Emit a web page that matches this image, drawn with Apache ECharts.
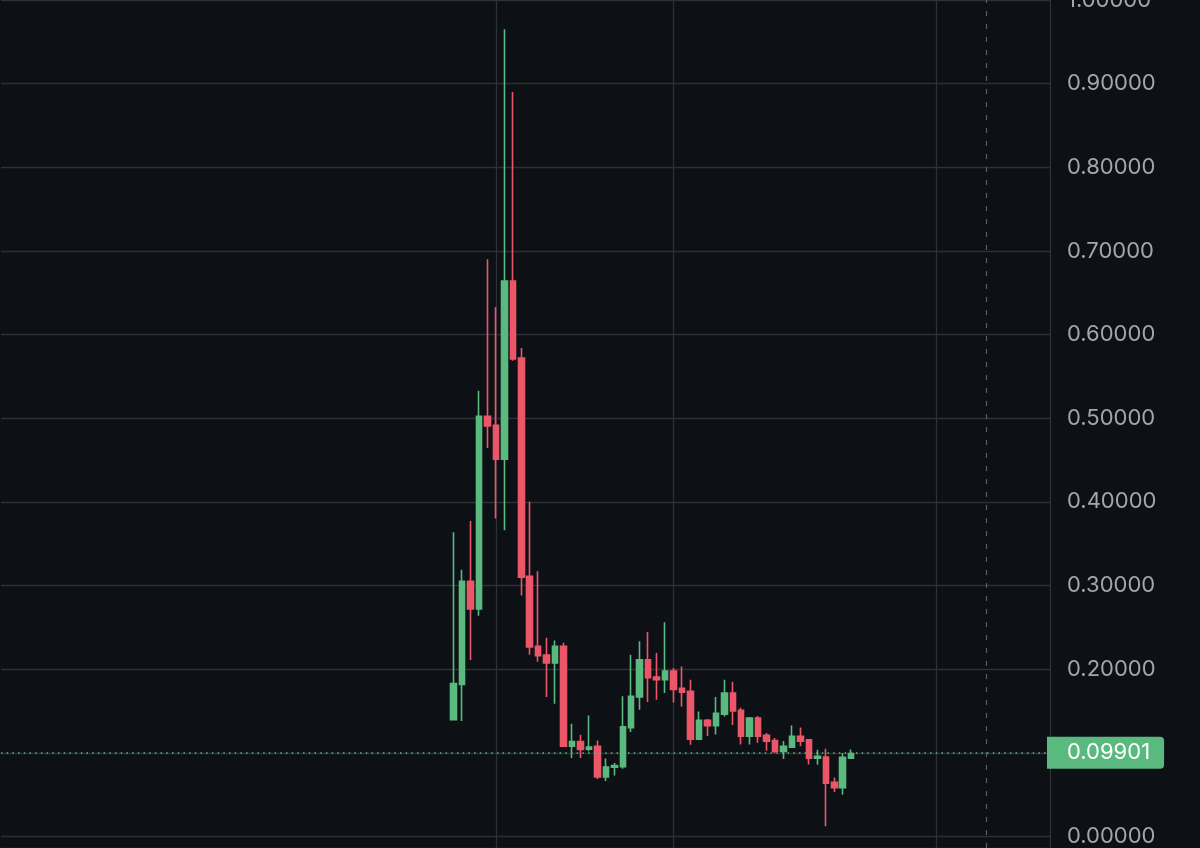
<!DOCTYPE html>
<html>
<head>
<meta charset="utf-8">
<script src="https://cdn.jsdelivr.net/npm/echarts@6/dist/echarts.min.js"></script>
<style>
html,body{margin:0;padding:0;background:#0d1015;}
#chart{width:1200px;height:848px;}
</style>
</head>
<body>
<div id="chart"></div>
<script>
// ---- data ----
const opens  = [0.1396,0.1818,0.305,0.272,0.5024,0.4916,0.451,0.664,0.5718,0.311,0.2273,0.217,0.2073,0.2273,0.108,0.1136,0.1044,0.1077,0.071,0.0829,0.0833,0.130,0.1667,0.2113,0.1906,0.1874,0.1978,0.177,0.1734,0.1164,0.1388,0.1324,0.1463,0.1714,0.1507,0.12,0.1415,0.1208,0.1148,0.1017,0.1068,0.1196,0.1156,0.0937,0.0949,0.0646,0.0582,0.0937];
const closes = [0.1827,0.305,0.272,0.5024,0.4908,0.451,0.664,0.571,0.310,0.2265,0.216,0.2073,0.2273,0.108,0.1136,0.104,0.1068,0.0710,0.0829,0.0849,0.1312,0.1675,0.2113,0.1898,0.1874,0.1978,0.1758,0.1726,0.1164,0.1388,0.1324,0.1471,0.1714,0.1499,0.12,0.1415,0.12,0.114,0.1017,0.1077,0.1196,0.114,0.0937,0.0957,0.0638,0.0582,0.0945,0.09901];
const lows   = [0.1396,0.138,0.211,0.264,0.4645,0.380,0.366,0.5686,0.288,0.2173,0.209,0.1667,0.1587,0.1069,0.0937,0.0937,0.102,0.0686,0.0662,0.073,0.081,0.1248,0.1515,0.1607,0.1635,0.1714,0.16,0.1555,0.1097,0.1164,0.12,0.122,0.1435,0.1332,0.110,0.110,0.112,0.1025,0.0997,0.0925,0.1068,0.1077,0.0861,0.0857,0.0123,0.053,0.0499,0.093];
const highs  = [0.3636,0.319,0.377,0.533,0.690,0.633,0.965,0.890,0.584,0.400,0.317,0.2377,0.2344,0.2317,0.1348,0.1216,0.1447,0.1148,0.0933,0.0877,0.1675,0.2173,0.2333,0.2444,0.2193,0.256,0.2013,0.2033,0.1874,0.1495,0.1403,0.1667,0.1874,0.185,0.154,0.1427,0.1439,0.1236,0.1176,0.114,0.1328,0.1304,0.1164,0.1037,0.1049,0.0706,0.0997,0.104];
const lastPrice = 0.09901;
const yTickValues = [0,0.1,0.2,0.3,0.4,0.5,0.6,0.7,0.8,0.9,1.0];

// empty time slots before and after the candles (layout)
const leadingSlots = 53;
const trailingSlots = 23;
// vertical grid lines (slot index) and the dashed "now" marker
const gridSlots = [58, 79, 110];
const dashedSlot = 116;

// ---- build ----
const totalSlots = leadingSlots + opens.length + trailingSlots;
const categories = [];
for (let i = 0; i < totalSlots; i++) categories.push(String(i));
const candleData = [];
for (let i = 0; i < leadingSlots; i++) candleData.push(['-','-','-','-']);
for (let i = 0; i < opens.length; i++) candleData.push([opens[i], closes[i], lows[i], highs[i]]);
for (let i = 0; i < trailingSlots; i++) candleData.push(['-','-','-','-']);

const GREEN = '#5ab97f', RED = '#ec5669', GRID = '#2d3037';

const vLines = gridSlots.map(s => ({xAxis: s, lineStyle: {color: GRID, width: 1.3, type: 'solid'}}));
vLines.push({xAxis: dashedSlot, lineStyle: {color: '#5a5e66', width: 1.2, type: [5, 8]}});

const chart = echarts.init(document.getElementById('chart'));
chart.setOption({
  backgroundColor: '#0d1015',
  animation: false,
  grid: {left: 1, right: 150, top: 0, bottom: 0, outerBoundsMode: 'none', containLabel: false},
  xAxis: {
    type: 'category', data: categories, boundaryGap: true,
    axisLine: {show: false}, axisTick: {show: false}, axisLabel: {show: false},
    splitLine: {show: false}
  },
  yAxis: {
    type: 'value', position: 'right', min: -0.0138, max: 1.0, splitNumber: 10, scale: true,
    axisLine: {show: true, lineStyle: {color: GRID, width: 1.3}},
    axisTick: {show: false},
    axisLabel: {
      show: true, margin: 17, color: '#a3a6ad', fontSize: 22, fontFamily: 'Inter',
      showMinLabel: false,
      formatter: v => yTickValues.some(t => Math.abs(t - v) < 1e-6) ? v.toFixed(5) : ''
    },
    splitLine: {show: true, lineStyle: {color: GRID, width: 1.3}}
  },
  series: [
    {
      type: 'candlestick', data: candleData, barWidth: 6,
      itemStyle: {color: GREEN, color0: RED, borderColor: GREEN, borderColor0: RED, borderWidth: 1.6},
      markLine: {
        z: 1, silent: true, symbol: ['none','none'], animation: false,
        label: {show: false},
        data: vLines
      }
    },
    {
      type: 'line', data: [], silent: true,
      markLine: {
        z: 5, silent: true, symbol: ['none','none'], animation: false,
        lineStyle: {color: GREEN, width: 1.5, type: [1.5, 4.2]},
        label: {
          show: true, position: 'end', distance: -3,
          formatter: () => lastPrice.toFixed(5),
          backgroundColor: GREEN, color: '#ffffff', fontSize: 22, fontFamily: 'Inter',
          lineHeight: 24, padding: [4, 14, 4, 20], borderRadius: [0, 4, 4, 0]
        },
        data: [{yAxis: lastPrice}]
      }
    }
  ]
});
</script>
</body>
</html>
